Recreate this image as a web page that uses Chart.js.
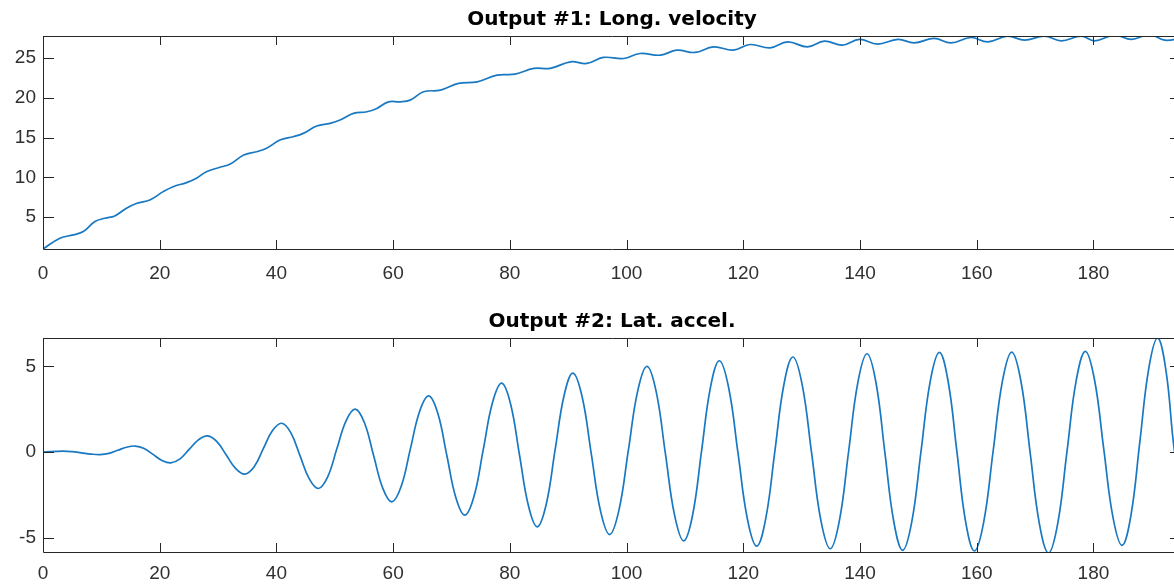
<!DOCTYPE html>
<html>
<head>
<meta charset="utf-8">
<title>Output #1 / Output #2</title>
<script src="https://cdn.jsdelivr.net/npm/chart.js@4.4.1/dist/chart.umd.min.js"></script>
<style>
  html, body { margin: 0; padding: 0; background: #fff; overflow: hidden; }
  .panel { position: absolute; left: 0; width: 1190px; }
</style>
</head>
<body>
<div class="panel" style="top:0;height:289px"><canvas id="velChart"></canvas></div>
<div class="panel" style="top:302px;height:290px"><canvas id="latChart"></canvas></div>
<script>
// ============================================
// Two stacked MATLAB-style output plots
// ============================================

// Output #1: longitudinal velocity
const velTime = [
  0, 2.9, 5.2, 6.9, 8.9, 10.6, 12.3, 14.3, 16.1, 18.3,
  20.6, 22.3, 24.6, 26.3, 28.0, 30.3, 32.1, 34.4, 36.6, 38.3,
  40.6, 42.9, 44.6, 46.9, 49.2, 50.9, 53.2, 55.5, 57.2, 59.2,
  61.2, 62.9, 65.2, 68.1, 71.2, 74.4, 77.8, 80.9, 84.1, 86.9,
  90.4, 93.2, 96.0, 99.5, 102.3, 105.8, 108.6, 111.7, 114.9, 118.3,
  121.2, 124.6, 127.6, 131.0, 133.9, 137.0, 139.9, 143.0, 146.5, 149.3,
  152.7, 155.6, 159.0, 161.9, 165.3, 168.2, 171.6, 174.5, 177.9, 180.2,
  183.6, 186.5, 189.6, 192.2, 195
];
const velValue = [
  1.0, 2.36, 2.78, 3.19, 4.45, 4.87, 5.16, 6.13, 6.76, 7.17,
  8.22, 8.84, 9.35, 9.9, 10.73, 11.28, 11.7, 12.83, 13.24, 13.67,
  14.71, 15.13, 15.55, 16.47, 16.81, 17.22, 18.06, 18.27, 18.69, 19.52,
  19.52, 19.73, 20.78, 20.99, 21.83, 22.03, 22.88, 23.0, 23.72, 23.72,
  24.55, 24.35, 25.1, 24.97, 25.6, 25.39, 26.02, 25.73, 26.43, 26.02,
  26.73, 26.3, 27.06, 26.43, 27.15, 26.65, 27.37, 26.78, 27.37, 26.94,
  27.49, 26.94, 27.61, 27.06, 27.78, 27.27, 27.78, 27.19, 27.78, 27.19,
  27.9, 27.37, 27.98, 27.27, 27.5
];

// Output #2: lateral acceleration (peaks, troughs, crossings and flanks)
const latTime = [
  0, 3.4,
  5.0, 6.6, 8.2, 9.8,
  11.3, 12.8, 14.3, 15.8,
  17.33, 18.85, 20.38, 21.9,
  23.48, 25.05, 26.63, 28.2,
  29.8, 31.4, 33.0, 34.6,
  36.18, 37.75, 39.33, 40.9,
  42.48, 44.05, 45.63, 47.2,
  48.78, 50.35, 51.93, 53.5,
  55.08, 56.65, 58.23, 59.8,
  61.38, 62.95, 64.53, 66.1,
  67.65, 69.2, 70.75, 72.3,
  73.88, 75.45, 77.03, 78.6,
  80.13, 81.65, 83.18, 84.7,
  86.23, 87.75, 89.28, 90.8,
  92.38, 93.95, 95.53, 97.1,
  98.7, 100.3, 101.9, 103.5,
  105.08, 106.65, 108.23, 109.8,
  111.33, 112.85, 114.38, 115.9,
  117.5, 119.1, 120.7, 122.3,
  123.85, 125.4, 126.95, 128.5,
  130.1, 131.7, 133.3, 134.9,
  136.48, 138.05, 139.63, 141.2,
  142.73, 144.25, 145.78, 147.3,
  148.88, 150.45, 152.03, 153.6,
  155.1, 156.6, 158.1, 159.6,
  161.2, 162.8, 164.4, 166.0,
  167.58, 169.15, 170.73, 172.3,
  173.88, 175.45, 177.03, 178.6,
  180.18, 181.75, 183.33, 184.9,
  186.43, 187.95, 189.48, 191.0,
  192.45, 193.9, 195
];
const latAccel = [
  0, 0.05,
  0.02, -0.05, -0.12, -0.15,
  -0.08, 0.1, 0.28, 0.35,
  0.21, -0.14, -0.49, -0.63,
  -0.4, 0.155, 0.71, 0.94,
  0.61, -0.175, -0.96, -1.29,
  -0.86, 0.195, 1.25, 1.68,
  1.12, -0.225, -1.57, -2.13,
  -1.45, 0.185, 1.82, 2.5,
  1.71, -0.205, -2.12, -2.91,
  -2.0, 0.185, 2.37, 3.28,
  2.26, -0.205, -2.67, -3.69,
  -2.56, 0.165, 2.89, 4.02,
  2.79, -0.175, -3.14, -4.37,
  -3.05, 0.12, 3.29, 4.61,
  3.23, -0.105, -3.44, -4.82,
  -3.38, 0.09, 3.56, 5.0,
  3.51, -0.095, -3.7, -5.19,
  -3.65, 0.07, 3.79, 5.33,
  3.74, -0.085, -3.91, -5.5,
  -3.88, 0.025, 3.93, 5.55,
  3.91, -0.05, -4.01, -5.65,
  -3.98, 0.045, 4.07, 5.74,
  4.06, 0, -4.06, -5.74,
  -4.05, 0.04, 4.13, 5.82,
  4.12, 0.02, -4.08, -5.78,
  -4.08, 0.03, 4.14, 5.84,
  4.12, -0.03, -4.18, -5.9,
  -4.17, -0.01, 4.15, 5.88,
  4.22, 0.215, -3.79, -5.45,
  -3.68, 0.605, 4.89, 6.66,
  4.7, 0, -1.6
];

// Axis ranges / ticks
const xRange = [0, 195];
const xStep = 20;
const velRange = [1, 27.8];
const latRange = [-5.84, 6.66];
const yStep = 5;

// Chart defaults
Chart.defaults.font.family = "'Liberation Sans', Arial, sans-serif";
Chart.defaults.font.size = 19;
Chart.defaults.color = '#303030';

// Box around the axes plus inward tick marks on all four sides
const matlabFrame = {
  id: 'matlabFrame',
  afterDatasetsDraw(chart) {
    const { ctx, chartArea: a, scales: { x, y } } = chart;
    ctx.save();
    ctx.strokeStyle = '#262626';
    ctx.lineWidth = 1;
    ctx.beginPath();
    x.ticks.forEach(t => {
      const px = Math.round(x.getPixelForValue(t.value)) + 0.5;
      ctx.moveTo(px, a.bottom); ctx.lineTo(px, a.bottom - 9);
      ctx.moveTo(px, a.top); ctx.lineTo(px, a.top + 9);
    });
    y.ticks.forEach(t => {
      const py = Math.round(y.getPixelForValue(t.value)) + 0.5;
      ctx.moveTo(a.left, py); ctx.lineTo(a.left + 11, py);
      ctx.moveTo(a.right, py); ctx.lineTo(a.right - 11, py);
    });
    ctx.rect(Math.round(a.left) + 0.5, Math.round(a.top) + 0.5,
             Math.round(a.width), Math.round(a.height));
    ctx.stroke();
    ctx.restore();
  }
};

function makeChart(id, title, xs, ys, yRange, labelPad) {
  return new Chart(document.getElementById(id), {
    type: 'line',
    data: {
      datasets: [{
        data: xs.map((t, i) => ({ x: t, y: ys[i] })),
        borderColor: '#1878c2',
        borderWidth: 1.7,
        pointRadius: 0,
        tension: 0.4,
        fill: false,
      }]
    },
    options: {
      responsive: true,
      maintainAspectRatio: false,
      animation: false,
      layout: { padding: { left: 0, right: 9, top: 0, bottom: 0 } },
      plugins: {
        legend: { display: false },
        tooltip: { enabled: false },
        title: {
          display: true,
          text: title,
          fullSize: false,
          color: '#000',
          font: { family: "'DejaVu Sans', sans-serif", size: 20, weight: 'bold' },
          padding: { top: 8, bottom: 4 }
        }
      },
      scales: {
        x: {
          type: 'linear',
          min: xRange[0], max: xRange[1],
          grid: { display: false, drawTicks: false },
          border: { display: false },
          ticks: { stepSize: xStep, includeBounds: false, padding: labelPad, maxRotation: 0 },
          afterFit: s => { s.height = 40; }
        },
        y: {
          min: yRange[0], max: yRange[1],
          grid: { display: false, drawTicks: false },
          border: { display: false },
          ticks: { stepSize: yStep, includeBounds: false, padding: 7 },
          afterFit: s => { s.width = 43; }
        }
      }
    },
    plugins: [matlabFrame]
  });
}

makeChart('velChart', 'Output #1: Long. velocity', velTime, velValue, velRange, 13);
makeChart('latChart', 'Output #2: Lat. accel.', latTime, latAccel, latRange, 10);
</script>
</body>
</html>
